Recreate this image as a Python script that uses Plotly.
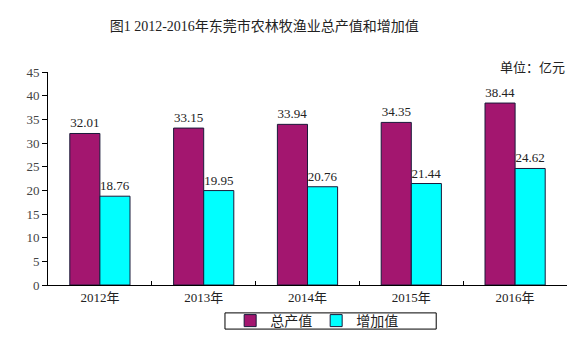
import plotly.graph_objects as go

years = ["2012年", "2013年", "2014年", "2015年", "2016年"]
total_output = [32.01, 33.15, 33.94, 34.35, 38.44]
added_value = [18.76, 19.95, 20.76, 21.44, 24.62]
series_names = ["总产值", "增加值"]
y_ticks = [0, 5, 10, 15, 20, 25, 30, 35, 40, 45]

num_font = "Liberation Serif, Noto Sans CJK SC"
cjk_font = "Noto Sans CJK SC"

fig = go.Figure()
fig.add_trace(go.Bar(
    x=years, y=total_output, name=series_names[0],
    marker=dict(color="#A3166F", line=dict(color="#1a1a3a", width=1)),
    text=total_output, texttemplate="%{y:.2f}", textposition="outside",
    textfont=dict(family=num_font, size=13, color="#222"), cliponaxis=False,
))
fig.add_trace(go.Bar(
    x=years, y=added_value, name=series_names[1],
    marker=dict(color="#00FFFF", line=dict(color="#1a1a3a", width=1)),
    text=added_value, texttemplate="%{y:.2f}", textposition="outside",
    textfont=dict(family=num_font, size=13, color="#222"), cliponaxis=False,
))

fig.update_layout(
    width=577, height=350,
    margin=dict(l=48, r=10, t=72, b=65),
    paper_bgcolor="white", plot_bgcolor="white",
    barmode="group", bargap=0.42, bargroupgap=0,
    showlegend=True,
    legend=dict(
        orientation="h", x=0.351, xanchor="left", y=-0.169, yanchor="middle",
        borderwidth=0, bgcolor="rgba(0,0,0,0)",
        font=dict(family=cjk_font, size=14, color="#222"),
        itemwidth=30, entrywidth=41, traceorder="normal",
    ),
    shapes=[dict(
        type="rect", xref="paper", yref="paper",
        x0=0.341, x1=0.748, y0=-0.207, y1=-0.131,
        line=dict(color="#000", width=1), fillcolor="rgba(0,0,0,0)", layer="below",
    )],
    title=dict(
        text="图1 2012-2016年东莞市农林牧渔业总产值和增加值",
        xref="container", x=0.458, xanchor="center",
        yref="container", y=0.926, yanchor="middle",
        font=dict(family=num_font, size=14, color="#222"),
    ),
    annotations=[dict(
        text="单位：亿元", xref="paper", yref="paper", x=1.0, y=1.028,
        xanchor="right", yanchor="middle", showarrow=False,
        font=dict(family=cjk_font, size=13, color="#222"),
    )],
    font=dict(family=num_font, color="#222"),
)
fig.update_xaxes(
    showline=True, linecolor="#000", linewidth=1,
    ticks="inside", ticklen=4, tickcolor="#000", tickson="boundaries",
    tickfont=dict(family=num_font, size=13, color="#222"),
    showgrid=False,
)
fig.update_yaxes(
    range=[0, 45], tickvals=y_ticks,
    showline=True, linecolor="#000", linewidth=1,
    ticks="outside", ticklen=5, tickcolor="#000",
    tickfont=dict(family=num_font, size=13, color="#444"),
    showgrid=False, zeroline=False,
)

fig.write_html("out.html")
